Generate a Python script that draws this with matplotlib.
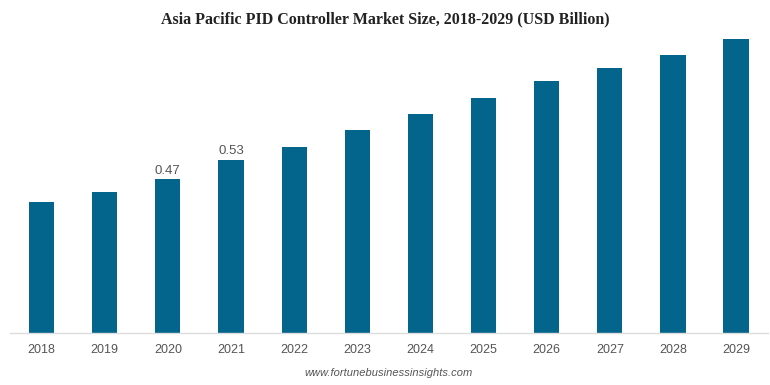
import matplotlib.pyplot as plt

years = ["2018", "2019", "2020", "2021", "2022", "2023",
         "2024", "2025", "2026", "2027", "2028", "2029"]
values = [0.40, 0.43, 0.47, 0.53, 0.57, 0.62, 0.67, 0.72, 0.77, 0.81, 0.85, 0.90]
labelled = {"2020": "0.47", "2021": "0.53"}

fig = plt.figure(figsize=(7.7, 3.85), dpi=100)
ax = fig.add_axes([0.013, 0.135, 0.984, 0.787])

x = range(len(years))
bars = ax.bar(x, values, width=0.4, color="#03658c", zorder=2)

for i, yr in enumerate(years):
    if yr in labelled:
        ax.annotate(labelled[yr], (i, values[i]), xytext=(0, 2),
                    textcoords="offset points", ha="center", va="bottom",
                    fontsize=9.5, color="#555555", family="Liberation Sans")

ax.set_xlim(-0.5, len(years) - 0.5)
ax.set_ylim(0, 0.927)
ax.set_xticks(list(x))
ax.set_xticklabels(years, fontsize=9, color="#555555", family="Liberation Sans")
ax.tick_params(axis="x", length=0, pad=8)
ax.set_yticks([])
for side in ["left", "right", "top"]:
    ax.spines[side].set_visible(False)
ax.spines["bottom"].set_color("#dddddd")
ax.spines["bottom"].set_linewidth(1)

fig.text(0.5, 0.95, "Asia Pacific PID Controller Market Size, 2018-2029 (USD Billion)",
         ha="center", va="center", fontsize=11.5, fontweight="bold",
         family="Liberation Serif", color="#222222")
fig.text(0.505, 0.03, "www.fortunebusinessinsights.com", ha="center", va="center",
         fontsize=8, style="italic", color="#555555", family="Liberation Sans")

fig.savefig("out.png", dpi=100)
